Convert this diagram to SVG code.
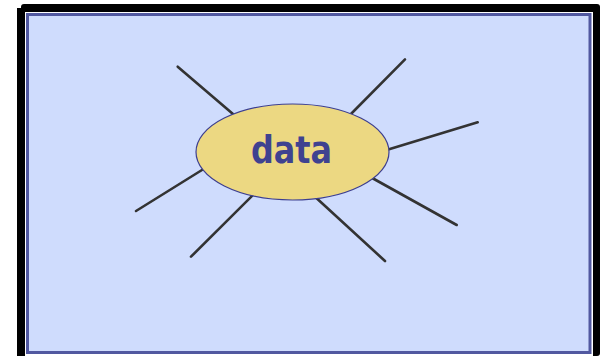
<svg xmlns="http://www.w3.org/2000/svg" width="604" height="356" viewBox="0 0 604 356">
<style>
.spoke{stroke:#333333;stroke-width:2.6;stroke-linecap:round;fill:none}
.label{font-family:"DejaVu Sans Condensed","DejaVu Sans","Liberation Sans",sans-serif;font-weight:bold;font-size:37px;fill:#3f4290}
</style>
<g id="frame">
<rect x="17" y="8" width="580" height="348" fill="#000"/>
<rect x="21" y="4" width="579" height="352" rx="3" fill="#000"/>
<rect x="25" y="12" width="568" height="344" fill="#fff"/>
<rect x="27.5" y="14.5" width="562.5" height="338" fill="#cfdcfd" stroke="#5158a0" stroke-width="3"/>
</g>
<g id="connectors">
<line class="spoke" x1="177.7" y1="66.7" x2="240" y2="120"/>
<line class="spoke" x1="405" y1="59.3" x2="345" y2="120"/>
<line class="spoke" x1="477.7" y1="122.3" x2="380" y2="152"/>
<line class="spoke" x1="456.7" y1="225" x2="365" y2="174"/>
<line class="spoke" x1="385" y1="261" x2="312" y2="194"/>
<line class="spoke" x1="191" y1="256.7" x2="258" y2="190"/>
<line class="spoke" x1="136" y1="211" x2="210" y2="165"/>
</g>
<g id="data">
<ellipse cx="292.5" cy="152" rx="96.5" ry="48" fill="#ecd882" stroke="#3d3f8f" stroke-width="1.2"/>
<text class="label" x="291.5" y="163" text-anchor="middle" textLength="81" lengthAdjust="spacingAndGlyphs">data</text>
</g>
</svg>
